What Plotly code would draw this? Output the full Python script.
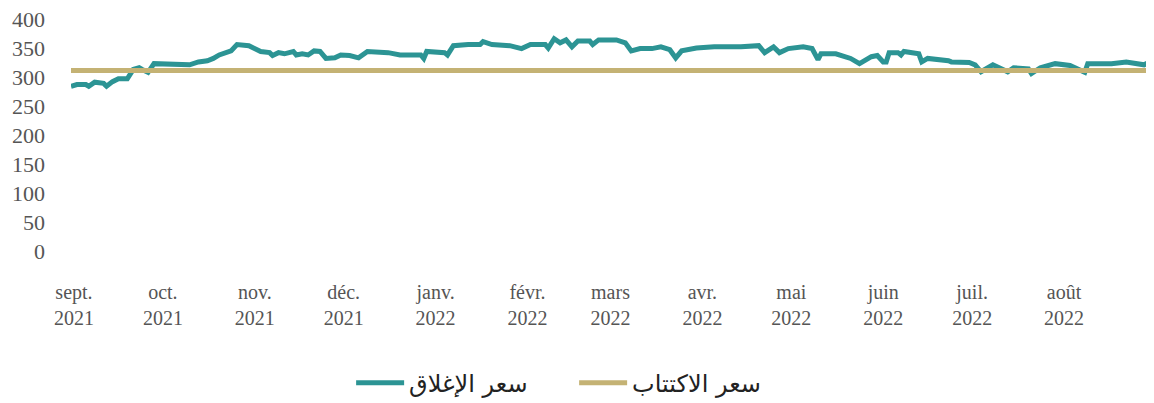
import plotly.graph_objects as go

# Closing price
dates = [
    "2021-09-01", "2021-09-03", "2021-09-06", "2021-09-07", "2021-09-09", "2021-09-12",
    "2021-09-13", "2021-09-15", "2021-09-17", "2021-09-20", "2021-09-22", "2021-09-24",
    "2021-09-25", "2021-09-27", "2021-09-29", "2021-10-06", "2021-10-11", "2021-10-14",
    "2021-10-17", "2021-10-19", "2021-10-21", "2021-10-25", "2021-10-27", "2021-10-31",
    "2021-11-01", "2021-11-04", "2021-11-07", "2021-11-08", "2021-11-10", "2021-11-12",
    "2021-11-15", "2021-11-16", "2021-11-18", "2021-11-20", "2021-11-22", "2021-11-24",
    "2021-11-26", "2021-11-29", "2021-12-01", "2021-12-04", "2021-12-07", "2021-12-08",
    "2021-12-10", "2021-12-17", "2021-12-21", "2021-12-28", "2021-12-29", "2021-12-30",
    "2022-01-05", "2022-01-06", "2022-01-08", "2022-01-13", "2022-01-17", "2022-01-18",
    "2022-01-21", "2022-01-27", "2022-01-31", "2022-02-03", "2022-02-08", "2022-02-09",
    "2022-02-11", "2022-02-13", "2022-02-15", "2022-02-17", "2022-02-19", "2022-02-23",
    "2022-02-24", "2022-02-26", "2022-03-04", "2022-03-07", "2022-03-09", "2022-03-12",
    "2022-03-16", "2022-03-19", "2022-03-22", "2022-03-24", "2022-03-26", "2022-03-31",
    "2022-04-06", "2022-04-15", "2022-04-21", "2022-04-23", "2022-04-26", "2022-04-28",
    "2022-05-01", "2022-05-06", "2022-05-09", "2022-05-11", "2022-05-12", "2022-05-17",
    "2022-05-22", "2022-05-25", "2022-05-29", "2022-05-31", "2022-06-02", "2022-06-03",
    "2022-06-04", "2022-06-07", "2022-06-08", "2022-06-09", "2022-06-14", "2022-06-15",
    "2022-06-17", "2022-06-24", "2022-06-25", "2022-07-01", "2022-07-03", "2022-07-05",
    "2022-07-09", "2022-07-14", "2022-07-16", "2022-07-21", "2022-07-22", "2022-07-25",
    "2022-07-30", "2022-08-04", "2022-08-07", "2022-08-09", "2022-08-10", "2022-08-18",
    "2022-08-23", "2022-08-25", "2022-08-29", "2022-08-31",
]
closing = [
    284, 287, 287, 284, 291, 289,
    284, 292, 297, 297, 313, 316,
    313, 308, 323, 321, 321, 326,
    328, 332, 338, 345, 356, 354,
    352, 344, 342, 337, 342, 340,
    344, 338, 340, 338, 345, 344,
    332, 333, 338, 337, 333, 337,
    344, 342, 338, 338, 332, 344,
    342, 338, 354, 356, 356, 361,
    356, 354, 349, 356, 356, 350,
    366, 359, 364, 352, 362, 362,
    356, 364, 364, 359, 345, 349,
    349, 352, 347, 333, 345, 350,
    352, 352, 354, 342, 352, 342,
    349, 352, 349, 330, 340, 340,
    332, 323, 335, 337, 326, 326,
    342, 342, 338, 344, 340, 326,
    332, 328, 326, 325, 321, 309,
    321, 309, 316, 314, 306, 316,
    323, 320, 314, 308, 323, 323,
    326, 325, 321, 326,
]

subscription_price = 311

tick_dates = [
    "2021-09-02", "2021-10-02", "2021-11-02", "2021-12-02", "2022-01-02", "2022-02-02",
    "2022-03-02", "2022-04-02", "2022-05-02", "2022-06-02", "2022-07-02", "2022-08-02",
]
tick_labels = [
    "sept.<br>2021", "oct.<br>2021", "nov.<br>2021", "déc.<br>2021", "janv.<br>2022",
    "févr.<br>2022", "mars<br>2022", "avr.<br>2022", "mai<br>2022", "juin<br>2022",
    "juil.<br>2022", "août<br>2022",
]
y_ticks = [0, 50, 100, 150, 200, 250, 300, 350, 400]

name_close = "سعر الإغلاق"
name_sub = "سعر الاكتتاب"

fig = go.Figure()
fig.add_trace(go.Scatter(
    x=dates, y=closing, mode="lines", name=name_close,
    line=dict(color="#2C9494", width=5),
))
fig.add_trace(go.Scatter(
    x=[dates[0], dates[-1]], y=[subscription_price, subscription_price],
    mode="lines", name=name_sub,
    line=dict(color="#C4B274", width=5),
))

fig.update_layout(
    width=1146, height=395,
    margin=dict(l=63, r=4, t=11, b=152, autoexpand=False),
    paper_bgcolor="white", plot_bgcolor="white",
    font=dict(family="Liberation Serif", size=20, color="#555555"),
    showlegend=True,
    legend=dict(
        orientation="h", xref="container", x=0.494, xanchor="center",
        yref="container", y=0.05, yanchor="middle",
        font=dict(family="DejaVu Sans", size=24, color="#222222"),
        itemwidth=48, tracegroupgap=0,
        entrywidth=160, entrywidthmode="pixels",
    ),
    xaxis=dict(
        type="date", range=["2021-09-01", "2022-08-31"],
        tickvals=tick_dates, ticktext=tick_labels, tickangle=0,
        showgrid=False, zeroline=False, showline=False, ticks="",
        ticklabelstandoff=27, automargin=False,
    ),
    yaxis=dict(
        range=[0, 400], tickvals=y_ticks,
        showgrid=False, zeroline=False, showline=False, ticks="",
        ticklabelstandoff=25, tickfont=dict(size=22),
        ticklabeloverflow="allow", automargin=False,
    ),
)

fig.write_html("out.html")
